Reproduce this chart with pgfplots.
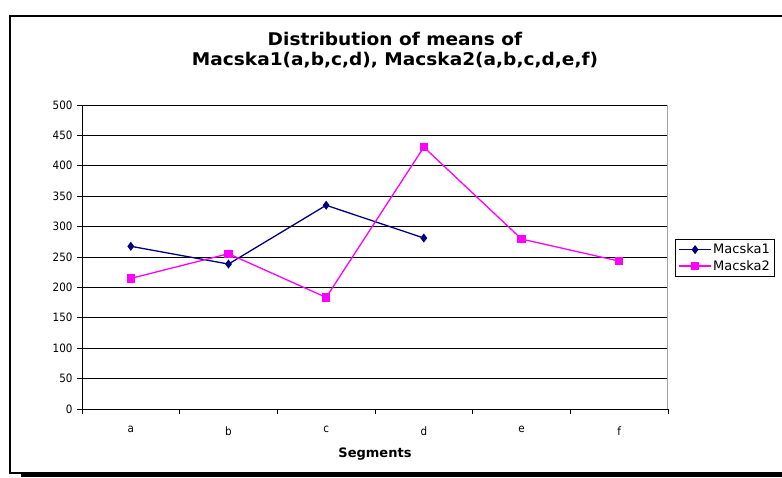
\documentclass[border=0pt]{standalone}
\usepackage{pgfplots}
\pgfplotsset{compat=1.18}
\usepackage{fontspec}
\setmainfont{DejaVu Sans}
\newfontfamily\titlefont{DejaVu Sans}[FakeStretch=1.06]
\newfontfamily\tickfont{DejaVu Sans}[FakeStretch=0.9]
\definecolor{navyc}{RGB}{0,0,128}
\definecolor{magc}{RGB}{255,0,255}
\begin{document}
\begin{tikzpicture}[x=1pt,y=1pt]
\useasboundingbox (0,0) rectangle (782,477);
\clip (0,0) rectangle (782,477);
\fill[white] (0,0) rectangle (782,477);
\fill[black] (21,0) rectangle (800,3.5);
\draw[black, line width=1.2pt] (10,4) rectangle (800,461);
\node[anchor=base, inner sep=0pt, font=\titlefont\bfseries\fontsize{17.5}{21}\selectfont] at (395,431) {Distribution of means of};
\node[anchor=base, inner sep=0pt, font=\titlefont\bfseries\fontsize{17.5}{21}\selectfont] at (395,411) {Macska1(a,b,c,d), Macska2(a,b,c,d,e,f)};
\begin{axis}[
  at={(82pt,68pt)}, anchor=south west,
  width=586pt, height=304pt, scale only axis,
  xmin=-0.5, xmax=5.5, ymin=0, ymax=500,
  separate axis lines,
  axis x line*=bottom, axis y line*=left,
  axis line style={-, black, line width=1pt},
  major tick length=5pt, tick align=outside,
  tick style={black, line width=0.8pt},
  xtick={-0.5,0.5,1.5,2.5,3.5,4.5,5.5}, xticklabels={},
  extra x ticks={0,1,2,3,4,5},
  extra x tick labels={a,b,c,d,e,f},
  extra x tick style={major tick length=0pt, tick style={draw=none}},
  ytick={0,50,...,500},
  ymajorgrids, grid style={black, line width=0.8pt},
  yticklabel style={font=\tickfont\fontsize{11.5}{13}\selectfont, xshift=-1pt},
  xticklabel style={font=\tickfont\fontsize{11.5}{13}\selectfont, yshift=-14pt},
  xlabel={\textbf{Segments}},
  xlabel style={font=\fontsize{13}{15}\selectfont, yshift=-1pt},
  legend style={at={(1.012,0.559)}, anchor=north west, draw=black, line width=0.8pt,
    font=\fontsize{13}{15}\selectfont, cells={anchor=west}, inner xsep=3pt, inner ysep=3pt,
    row sep=2pt, nodes={inner sep=1.5pt}},
  legend image code/.code={\draw[mark repeat=2,mark phase=2,#1] plot coordinates {(0pt,0pt) (16pt,0pt) (32pt,0pt)};},
  /pgf/number format/assume math mode=true,
]
\addplot[navyc, line width=1.3pt, mark=diamond*, mark size=3.5pt, mark options={solid, fill=navyc}]
  coordinates {(0,267.6) (1,238.4) (2,335.1) (3,281.2)};
\addlegendentry{Macska1}
\addplot[magc, line width=1.3pt, mark=square*, mark size=3.5pt, mark options={solid, fill=magc}]
  coordinates {(0,214.8) (1,255.4) (2,183.5) (3,430.7) (4,279.6) (5,243.2)};
\addlegendentry{Macska2}
\draw[black!35, line width=1pt] (rel axis cs:1,0) -- (rel axis cs:1,1);
\end{axis}
\end{tikzpicture}
\end{document}
